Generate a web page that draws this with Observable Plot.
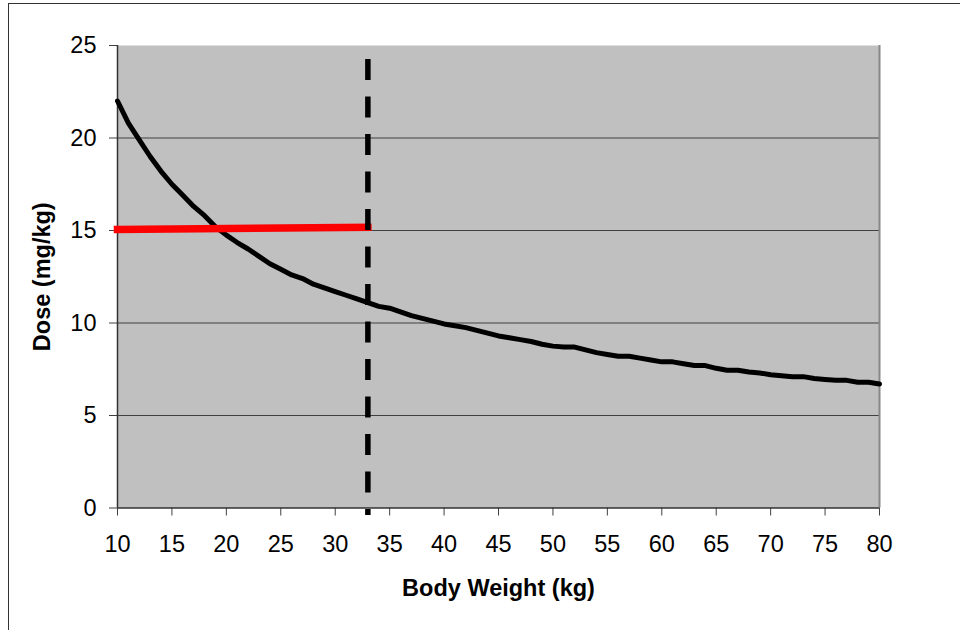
<!DOCTYPE html>
<html>
<head>
<meta charset="utf-8">
<script src="https://cdn.jsdelivr.net/npm/d3@7"></script>
<script src="https://cdn.jsdelivr.net/npm/@observablehq/plot@0.6"></script>
<style>
  body { margin: 0; background: white; }
  #wrap { position: relative; width: 960px; height: 630px; overflow: hidden; }
  #border { position: absolute; left: 8px; top: 3px; width: 1000px; height: 1000px;
            border: 1.5px solid #333; pointer-events: none; }
</style>
</head>
<body>
<div id="wrap"><div id="chart"></div><div id="border"></div></div>
<script>
// body weight (kg) and the matching dose (mg/kg)
const weights = [10, 11, 12, 13, 14, 15, 16, 17, 18, 19, 20, 21, 22, 23, 24, 25, 26, 27, 28, 29,
  30, 31, 32, 33, 34, 35, 36, 37, 38, 39, 40, 41, 42, 43, 44, 45, 46, 47, 48, 49,
  50, 51, 52, 53, 54, 55, 56, 57, 58, 59, 60, 61, 62, 63, 64, 65, 66, 67, 68, 69,
  70, 71, 72, 73, 74, 75, 76, 77, 78, 79, 80]
const doses = [22.0, 20.8, 19.9, 19.0, 18.2, 17.5, 16.9, 16.3, 15.8, 15.2, 14.75, 14.35, 14.0, 13.6, 13.2, 12.9, 12.6, 12.4, 12.1, 11.9,
  11.7, 11.5, 11.3, 11.1, 10.9, 10.8, 10.6, 10.4, 10.25, 10.1, 9.95, 9.85, 9.75, 9.6, 9.45, 9.3, 9.2, 9.1, 9.0, 8.85,
  8.75, 8.7, 8.7, 8.55, 8.4, 8.3, 8.2, 8.2, 8.1, 8.0, 7.9, 7.9, 7.8, 7.7, 7.7, 7.55, 7.45, 7.45, 7.35, 7.3,
  7.2, 7.15, 7.1, 7.1, 7.0, 6.95, 6.9, 6.9, 6.8, 6.8, 6.7]

// red target line and the dashed cut-off
const targetWeights = [10, 33]
const targetDoses = [15.05, 15.18]
const cutoffWeight = 33
const cutoffRange = [24.25, -0.4]

const xTicks = [10, 15, 20, 25, 30, 35, 40, 45, 50, 55, 60, 65, 70, 75, 80]
const yTicks = [0, 5, 10, 15, 20, 25]

const curve = weights.map((w, i) => ({w, d: doses[i]}))
const target = targetWeights.map((w, i) => ({w, d: targetDoses[i]}))

let chart = Plot.plot({
  width: 960,
  height: 630,
  marginLeft: 117,
  marginRight: 81,
  marginTop: 45,
  marginBottom: 122.5,
  x: {domain: [10, 80]},
  y: {domain: [0, 25]},
  style: {
    fontFamily: "'Liberation Sans', Arial, sans-serif",
    fontSize: "23.5px",
    color: "black",
    background: "transparent",
  },
  marks: [
    Plot.frame({fill: "#c0c0c0", stroke: null}),
    Plot.gridY(yTicks.filter(v => v > 0 && v < 25), {stroke: "#404040", strokeOpacity: 1, strokeWidth: 1.2}),
    Plot.ruleX([80], {stroke: "#888", strokeWidth: 2}),
    Plot.axisY({ticks: yTicks, tickSize: 8, tickPadding: 13, label: null, stroke: "#404040"}),
    Plot.axisX({ticks: xTicks, tickSize: 8, tickPadding: 19, label: null, stroke: "#404040"}),
    Plot.ruleY([0], {stroke: "#333", strokeWidth: 1.5}),
    Plot.ruleX([10], {stroke: "#333", strokeWidth: 1.5}),
    Plot.line(curve, {x: "w", y: "d", stroke: "black", strokeWidth: 5}),
    Plot.line(target, {x: "w", y: "d", stroke: "#ff0000", strokeWidth: 7.5, strokeLinecap: "square"}),
    Plot.ruleX([cutoffWeight], {
      y1: cutoffRange[0], y2: cutoffRange[1],
      stroke: "black", strokeWidth: 5.5, strokeDasharray: "21,16.5",
    }),
    Plot.text(["Body Weight (kg)"], {
      frameAnchor: "bottom", dy: 80, fontWeight: "bold", fontSize: 23.5, lineAnchor: "middle",
    }),
    Plot.text(["Dose (mg/kg)"], {
      frameAnchor: "left", dx: -75, rotate: -90, textAnchor: "middle", lineAnchor: "middle",
      fontWeight: "bold", fontSize: 23.5,
    }),
  ],
})
var svg = d3.select('#chart').append(() => chart)
</script>
</body>
</html>
